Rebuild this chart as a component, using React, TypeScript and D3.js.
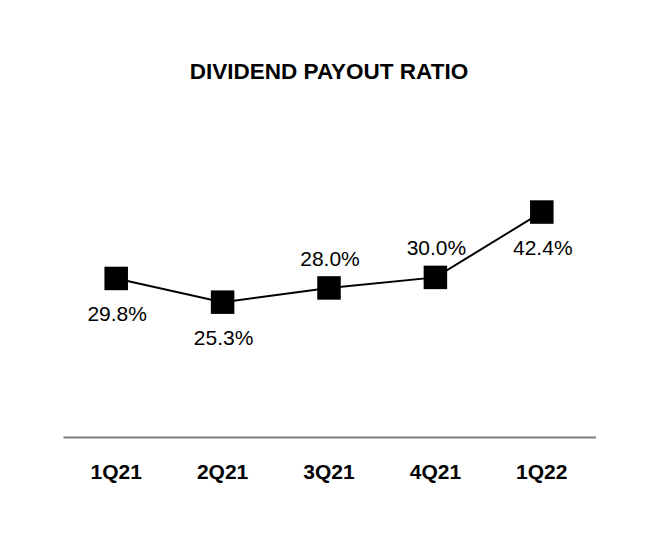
import React from "react";
import * as d3 from "d3";

const categories = ["1Q21", "2Q21", "3Q21", "4Q21", "1Q22"];
const values = [29.8, 25.3, 28.0, 30.0, 42.4];
const labelPositions = ["below", "below", "above", "above", "below"];
const title = "DIVIDEND PAYOUT RATIO";

const W = 660;
const H = 540;

export default function App() {
  const x = d3.scaleBand<string>().domain(categories).range([63, 595]);
  const y = d3.scaleLinear().domain([0, 50]).range([435.5, 172]);
  const cx = (c: string) => (x(c) as number) + x.bandwidth() / 2;
  const line = d3
    .line<number>()
    .x((_, i) => cx(categories[i]))
    .y((v) => y(v));
  const font = "'Liberation Sans', Arial, sans-serif";
  const sq = 23.5;
  return (
    <svg
      width={W}
      height={H}
      style={{ position: "absolute", left: 0, top: 0, background: "#fff" }}
      fontFamily={font}
    >
      <rect width={W} height={H} fill="#fff" />
      <text x={329} y={78.5} textAnchor="middle" fontWeight="bold" fontSize={22.5} fill="#000">
        {title}
      </text>
      <line x1={63.5} x2={596} y1={437.5} y2={437.5} stroke="#7f7f7f" strokeWidth={2} />
      {categories.map((c) => (
        <text key={c} x={cx(c)} y={479} textAnchor="middle" fontWeight="bold" fontSize={21} fill="#000">
          {c}
        </text>
      ))}
      <path d={line(values) || ""} fill="none" stroke="#000" strokeWidth={2} />
      {values.map((v, i) => (
        <rect
          key={i}
          x={cx(categories[i]) - sq / 2}
          y={y(v) - sq / 2}
          width={sq}
          height={sq}
          fill="#000"
        />
      ))}
      {values.map((v, i) => (
        <text
          key={"l" + i}
          x={cx(categories[i]) + 1}
          y={labelPositions[i] === "below" ? y(v) + 43 : y(v) - 22}
          textAnchor="middle"
          fontSize={21}
          fill="#000"
        >
          {v.toFixed(1) + "%"}
        </text>
      ))}
    </svg>
  );
}
